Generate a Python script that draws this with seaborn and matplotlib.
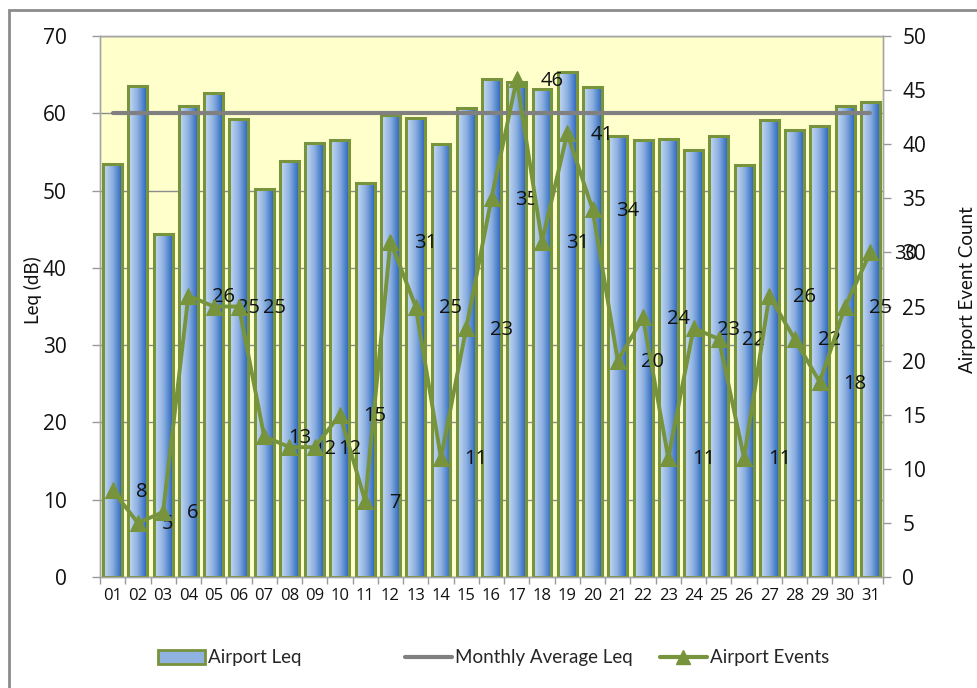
import numpy as np
import pandas as pd
import matplotlib
matplotlib.use('Agg')
import matplotlib.pyplot as plt
import seaborn as sns
from matplotlib.colors import LinearSegmentedColormap
from matplotlib.patches import Patch, Rectangle
from matplotlib.lines import Line2D

# =========================
# DATA
# =========================
days = ['01', '02', '03', '04', '05', '06', '07', '08', '09', '10', '11', '12', '13', '14', '15', '16',
        '17', '18', '19', '20', '21', '22', '23', '24', '25', '26', '27', '28', '29', '30', '31']
airport_leq = [53.5, 63.5, 44.4, 61.0, 62.6, 59.2, 50.2, 53.8, 56.2, 56.5, 51.0, 59.8, 59.4, 56.0, 60.7, 64.4,
               64.0, 63.2, 65.4, 63.4, 57.1, 56.5, 56.7, 55.2, 57.1, 53.3, 59.1, 57.8, 58.4, 60.9, 61.4]
monthly_avg_leq = 60.1
airport_events = [8, 5, 6, 26, 25, 25, 13, 12, 12, 15, 7, 31, 25, 11, 23, 35,
                  46, 31, 41, 34, 20, 24, 11, 23, 22, 11, 26, 22, 18, 25, 30]
legend_labels = ['Airport Leq', 'Monthly Average Leq', 'Airport Events']

# =========================
# STYLE
# =========================
GREEN = '#77933C'
GREY = '#808080'
BG = '#FFFFCC'
bar_cmap = LinearSegmentedColormap.from_list('bar', ['#cadcf3', '#8cb0e0', '#2a66bf'])

sns.set_theme(style='white')
plt.rcParams['font.family'] = ['Open Sans', 'DejaVu Sans']

df = pd.DataFrame({'day': days, 'leq': airport_leq, 'events': airport_events})

fig = plt.figure(figsize=(9.77, 6.88), dpi=100)
ax = fig.add_axes([100 / 977, 1 - 577 / 688, (883 - 100) / 977, (577 - 36) / 688])
ax.set_facecolor(BG)

sns.barplot(data=df, x='day', y='leq', ax=ax, width=0.75, color='#6f9ad6',
            edgecolor=GREEN, linewidth=2.2, zorder=3)

# gradient fill inside each bar
for p in ax.patches:
    x0, y0, w, h = p.get_x(), p.get_y(), p.get_width(), p.get_height()
    im = ax.imshow(np.linspace(0, 1, 64).reshape(1, -1), extent=[x0, x0 + w, y0, y0 + h],
                   cmap=bar_cmap, aspect='auto', zorder=2.9, interpolation='bilinear')
    im.set_clip_path(p)
    p.set_facecolor('none')

xpos = np.arange(len(days))
sns.lineplot(x=xpos, y=[monthly_avg_leq] * len(days), ax=ax, color=GREY, linewidth=3,
             zorder=4, legend=False)

ax.set_xlim(-0.5, len(days) - 0.5)
ax.set_ylim(0, 70)
ax.set_yticks(range(0, 71, 10))
ax.yaxis.grid(True, color='#8c8c8c', linewidth=1)
ax.set_axisbelow(True)
ax.set_xlabel('')
ax.set_ylabel('')
ax.set_xticks(xpos)
ax.set_xticklabels(days, fontsize=12)
ax.set_xticks(np.arange(-0.5, len(days), 1), minor=True)
ax.tick_params(axis='x', which='major', length=0, pad=8, colors='#111111')
ax.tick_params(axis='x', which='minor', length=5, color='#999999', width=1, bottom=True)
ax.tick_params(axis='y', length=6, color='#999999', width=1, labelsize=15, left=True,
               pad=18, colors='#111111')
for s in ax.spines.values():
    s.set_color('#a6a6a6')
    s.set_linewidth(1)

# right axis: event count
ax2 = ax.twinx()
ax2.patch.set_visible(False)
sns.lineplot(x=xpos, y=df['events'], ax=ax2, color=GREEN, linewidth=2.8, marker='^',
             markersize=11, markeredgecolor=GREEN, zorder=5, legend=False)
for i, v in enumerate(airport_events):
    ax2.annotate(str(v), (i, v), xytext=(17, -1), textcoords='offset points',
                 ha='left', va='center', fontsize=14.5, color='#111111')
ax2.set_ylim(0, 50)
ax2.set_yticks(range(0, 51, 5))
ax2.set_ylabel('')
ax2.tick_params(axis='y', length=6, color='#999999', width=1, labelsize=15, right=True,
                pad=8, colors='#111111')
for s in ax2.spines.values():
    s.set_color('#a6a6a6')
    s.set_linewidth(1)

fig.text(33 / 977, 1 - 290 / 688, 'Leq (dB)', rotation=90, ha='center', va='center',
         fontsize=13.5, family=['Lato', 'DejaVu Sans'], color='#111111')
fig.text(967 / 977, 1 - 290 / 688, 'Airport Event Count', rotation=90, ha='center', va='center',
         fontsize=13.5, family=['Lato', 'DejaVu Sans'], color='#111111')

# legend: three equally spaced entries like the Excel legend
handles = [Patch(facecolor='#8fb2e0', edgecolor=GREEN, linewidth=2),
           Line2D([], [], color=GREY, linewidth=3),
           Line2D([], [], color=GREEN, linewidth=3, marker='^', markersize=10)]
for h, lab, x_px in zip(handles, legend_labels, [158, 405, 660]):
    fig.legend([h], [lab], loc='center left', bbox_to_anchor=(x_px / 977, 1 - 658 / 688),
               frameon=False, prop={'family': ['Lato', 'DejaVu Sans'], 'size': 13.5},
               handlelength=2.5, handletextpad=0.15, borderpad=0, borderaxespad=0)

# outer chart frame
fig.add_artist(Rectangle((9 / 977, -0.1), 1.2, 1.1 - 10 / 688, transform=fig.transFigure,
                         fill=False, edgecolor='#8c8c8c', linewidth=2))

fig.savefig('out.png', dpi=100, facecolor='white')
